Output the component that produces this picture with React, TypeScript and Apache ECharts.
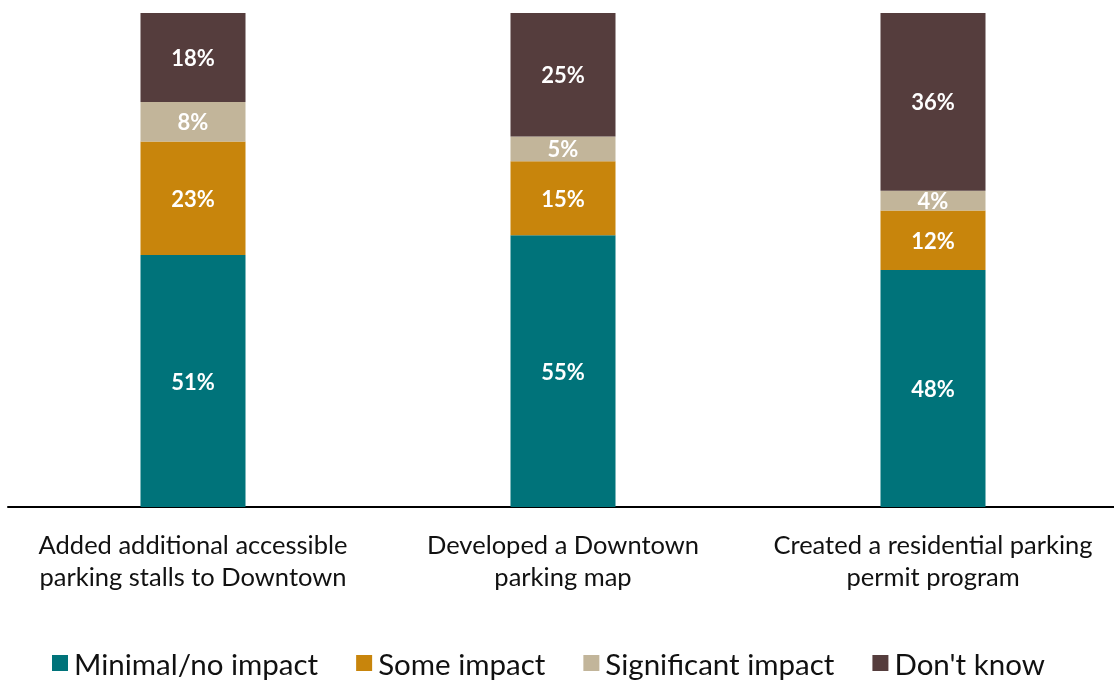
import React, { useEffect, useRef } from "react";
import * as echarts from "echarts";

const categories = [
  "Added additional accessible\nparking stalls to Downtown",
  "Developed a Downtown\nparking map",
  "Created a residential parking\npermit program",
];
const seriesNames = ["Minimal/no impact", "Some impact", "Significant impact", "Don't know"];
const minimal = [51, 55, 48];
const some = [23, 15, 12];
const significant = [8, 5, 4];
const dontKnow = [18, 25, 36];
const colors = ["#00737A", "#C8850C", "#C2B59A", "#553D3D"];

const FONT = "Lato, 'Open Sans', sans-serif";

export default function App() {
  const ref = useRef<HTMLDivElement>(null);
  useEffect(() => {
    const chart = echarts.init(ref.current!, null, { renderer: "svg" });
    const data = [minimal, some, significant, dontKnow];
    chart.setOption({
      animation: false,
      textStyle: { fontFamily: FONT },
      grid: { left: 8, right: 0, top: 13, bottom: 174, containLabel: false },
      xAxis: {
        type: "category",
        data: categories,
        axisLine: { lineStyle: { color: "#000", width: 2 } },
        axisTick: { show: false },
        axisLabel: {
          interval: 0,
          color: "#111",
          fontSize: 25.5,
          lineHeight: 32,
          margin: 21,
          fontFamily: FONT,
        },
      },
      yAxis: {
        type: "value",
        min: 0,
        max: 100,
        show: false,
        splitLine: { show: false },
      },
      legend: {
        top: 648,
        left: 52,
        padding: 0,
        itemWidth: 16,
        itemHeight: 16,
        itemGap: 38,
        icon: "rect",
        textStyle: { fontSize: 29.5, color: "#111", fontFamily: FONT, padding: [0, 0, 0, 1] },
        data: seriesNames,
      },
      series: seriesNames.map((name, i) => ({
        name,
        type: "bar",
        stack: "total",
        barWidth: 105,
        data: data[i],
        itemStyle: { color: colors[i] },
        label: {
          show: true,
          position: "inside",
          formatter: "{c}%",
          color: "#fff",
          fontSize: 22,
          fontWeight: "bold",
          fontFamily: FONT,
        },
      })),
    });
    return () => chart.dispose();
  }, []);
  return (
    <div
      style={{ position: "fixed", left: 0, top: 0, width: 1114, height: 681, overflow: "hidden" }}
    >
      <div ref={ref} style={{ width: 1118, height: 681 }} />
    </div>
  );
}
